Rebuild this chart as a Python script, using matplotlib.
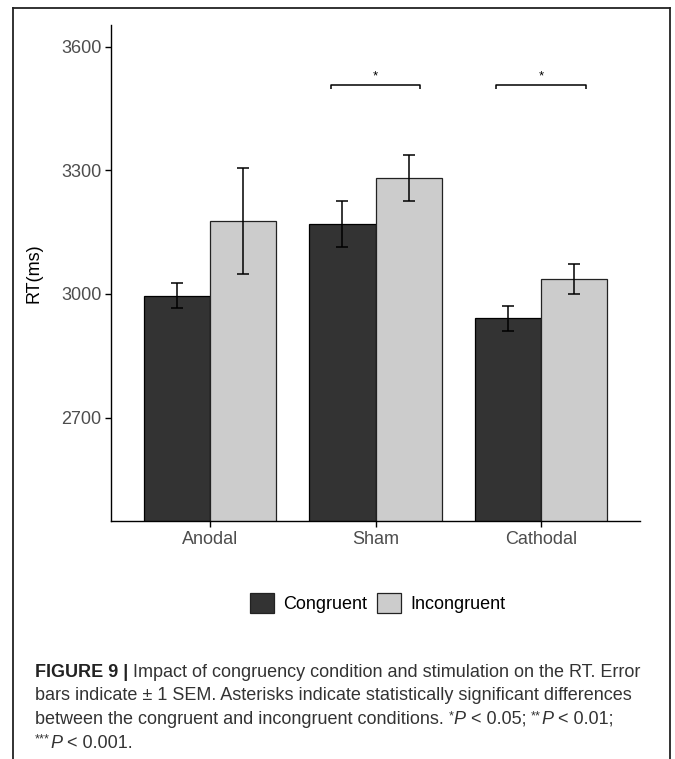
import matplotlib
matplotlib.use('Agg')
import matplotlib.pyplot as plt
from matplotlib.patches import Patch
from matplotlib.lines import Line2D
import numpy as np

plt.rcParams['font.family'] = ['Liberation Sans', 'DejaVu Sans']

# Medias de RT y error estándar por estimulación
stimulation = ['Anodal', 'Sham', 'Cathodal']
congruent = [2996, 3170, 2941]
congruent_sem = [31, 57, 30]
incongruent = [3178, 3282, 3037]
incongruent_sem = [129, 56, 37]

# Pares significativos (índice de estimulación) y su etiqueta
sig_pairs = [1, 2]
sig_labels = ['*', '*']
sig_height = 3508

W, H = 675, 759
fig = plt.figure(figsize=(W / 100, H / 100), dpi=100)
ax = fig.add_axes([111 / W, 1 - 521 / H, (640 - 111) / W, (521 - 25) / H])

x = np.arange(1, len(stimulation) + 1)
w = 0.4
ax.bar(x - w / 2, congruent, width=w, color='#333333', edgecolor='black',
       linewidth=0.9, zorder=2)
ax.bar(x + w / 2, incongruent, width=w, color='#cccccc', edgecolor='#222222',
       linewidth=0.9, zorder=2)
ax.errorbar(x - w / 2, congruent, yerr=congruent_sem, fmt='none', ecolor='black',
            elinewidth=1.1, capsize=4.3, capthick=1.1, zorder=3)
ax.errorbar(x + w / 2, incongruent, yerr=incongruent_sem, fmt='none', ecolor='black',
            elinewidth=1.1, capsize=4.3, capthick=1.1, zorder=3)

# Corchetes de significación
for i, lab in zip(sig_pairs, sig_labels):
    xc = x[i]
    ax.plot([xc - 0.272, xc - 0.272, xc + 0.272, xc + 0.272],
            [sig_height - 9, sig_height, sig_height, sig_height - 9],
            color='black', lw=1.1, solid_capstyle='butt', clip_on=False)
    ax.text(xc, sig_height + 5, lab, ha='center', va='bottom', fontsize=9.5)

ax.set_xlim(0.4, 3.6)
ax.set_ylim(2448.6, 3653.4)
ax.set_yticks([2700, 3000, 3300, 3600])
ax.set_xticks(x)
ax.set_xticklabels(stimulation)
ax.spines['top'].set_visible(False)
ax.spines['right'].set_visible(False)
for s in ['left', 'bottom']:
    ax.spines[s].set_linewidth(1.0)
ax.tick_params(axis='both', length=4, width=1.0, labelsize=13,
               labelcolor='#4d4d4d', pad=3)
ax.set_ylabel('RT(ms)', fontsize=13)
ax.yaxis.set_label_coords(-0.13, 0.5)

# Leyenda
handles = [Patch(facecolor='#333333', edgecolor='#222222', linewidth=0.9, label='Congruent'),
           Patch(facecolor='#cccccc', edgecolor='#222222', linewidth=0.9, label='Incongruent')]
fig.legend(handles=handles, loc='center', bbox_to_anchor=(378 / W, 1 - 603 / H),
           ncol=2, frameon=False, fontsize=13, handlelength=1.28, handleheight=1.28,
           handletextpad=0.55, columnspacing=0.55)

# Marco de la figura
frame_kw = dict(color='#222222', lw=1.3, transform=fig.transFigure)
fig.add_artist(Line2D([13 / W, 13 / W], [0, 1 - 8 / H], **frame_kw))
fig.add_artist(Line2D([670 / W, 670 / W], [0, 1 - 8 / H], **frame_kw))
fig.add_artist(Line2D([13 / W, 670 / W], [1 - 8 / H, 1 - 8 / H], **frame_kw))

# Pie de figura: cada línea es una lista de tramos (texto, estilo)
B, N, I, S = 'bold', 'normal', 'italic', 'sup'
caption = [
    [('FIGURE 9 |', B), (' Impact of congruency condition and stimulation on the RT. Error', N)],
    [('bars indicate \u00b1 1 SEM. Asterisks indicate statistically significant differences', N)],
    [('between the congruent and incongruent conditions. ', N), ('*', S), ('P', I),
     (' < 0.05; ', N), ('**', S), ('P', I), (' < 0.01;', N)],
    [('***', S), ('P', I), (' < 0.001.', N)],
]

cap_size = 13
renderer = fig.canvas.get_renderer()
for k, runs in enumerate(caption):
    xpos = 35
    ypos = H - (671 + 23.5 * k)
    for txt, style in runs:
        kw = dict(fontsize=cap_size, color='#333333', ha='left', va='baseline')
        y = ypos
        if style == B:
            kw.update(fontweight='bold', color='#222222')
        elif style == I:
            kw.update(fontstyle='italic')
        elif style == S:
            kw.update(fontsize=cap_size * 0.7)
            y = ypos + 5
        t = fig.text(xpos / W, (y - 6) / H, txt, **kw)
        bb = t.get_window_extent(renderer=renderer)
        xpos += bb.width

fig.savefig('out.png', dpi=100)
